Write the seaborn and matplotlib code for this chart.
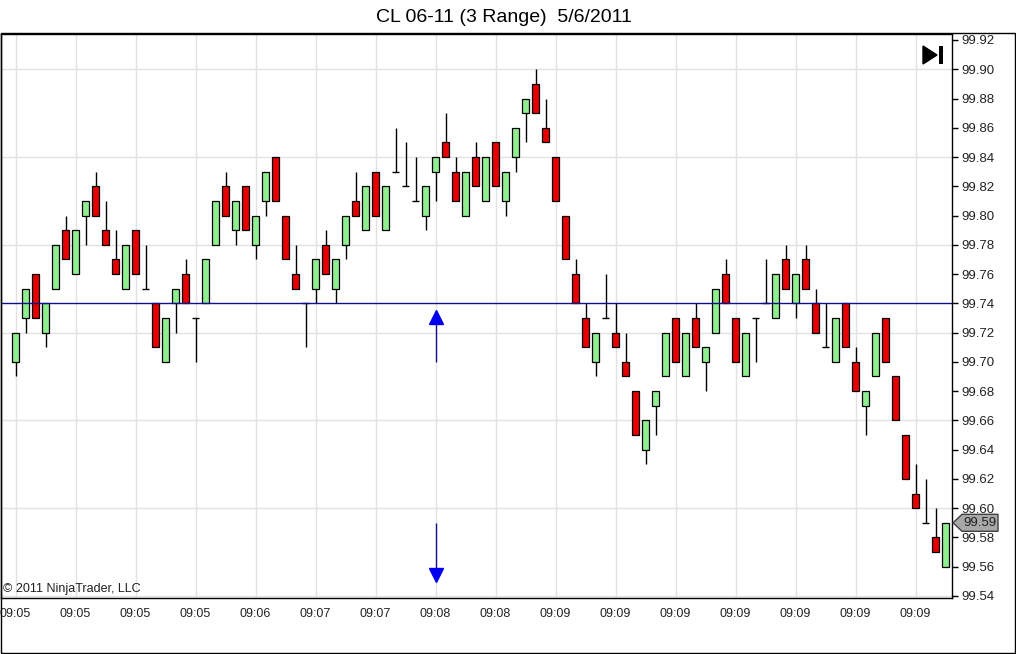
import matplotlib
matplotlib.use('Agg')
import matplotlib.pyplot as plt
import matplotlib.transforms as mtransforms
from matplotlib.patches import Polygon, Rectangle
import numpy as np
import pandas as pd
import seaborn as sns

# 3-tick range bars, CL 06-11
opens = [99.70, 99.73, 99.76, 99.72, 99.75, 99.79, 99.76, 99.80, 99.82, 99.79,
         99.77, 99.75, 99.79, 99.75, 99.74, 99.70, 99.74, 99.76, 99.73, 99.74,
         99.78, 99.82, 99.79, 99.82, 99.78, 99.81, 99.84, 99.80, 99.76, 99.74,
         99.75, 99.78, 99.75, 99.78, 99.81, 99.79, 99.83, 99.79, 99.83, 99.82,
         99.81, 99.80, 99.83, 99.85, 99.83, 99.80, 99.84, 99.81, 99.85, 99.81,
         99.84, 99.87, 99.89, 99.86, 99.84, 99.80, 99.76, 99.73, 99.70, 99.73,
         99.72, 99.70, 99.68, 99.64, 99.67, 99.69, 99.73, 99.69, 99.73, 99.70,
         99.72, 99.76, 99.73, 99.69, 99.73, 99.74, 99.73, 99.77, 99.74, 99.77,
         99.74, 99.71, 99.70, 99.74, 99.70, 99.67, 99.69, 99.73, 99.69, 99.65,
         99.61, 99.59, 99.58, 99.56]
highs = [99.72, 99.75, 99.76, 99.74, 99.78, 99.80, 99.79, 99.81, 99.83, 99.81,
         99.79, 99.78, 99.79, 99.78, 99.74, 99.73, 99.75, 99.77, 99.73, 99.77,
         99.81, 99.83, 99.81, 99.82, 99.80, 99.83, 99.84, 99.80, 99.78, 99.74,
         99.77, 99.79, 99.77, 99.80, 99.83, 99.82, 99.83, 99.82, 99.86, 99.85,
         99.84, 99.82, 99.84, 99.87, 99.84, 99.83, 99.85, 99.84, 99.85, 99.83,
         99.86, 99.88, 99.90, 99.88, 99.84, 99.80, 99.77, 99.74, 99.72, 99.76,
         99.74, 99.72, 99.68, 99.66, 99.68, 99.72, 99.73, 99.72, 99.74, 99.71,
         99.75, 99.77, 99.73, 99.72, 99.73, 99.77, 99.76, 99.78, 99.76, 99.78,
         99.75, 99.74, 99.73, 99.74, 99.71, 99.68, 99.72, 99.73, 99.69, 99.65,
         99.63, 99.62, 99.60, 99.59]
lows = [99.69, 99.72, 99.73, 99.71, 99.75, 99.77, 99.76, 99.78, 99.80, 99.78,
        99.76, 99.75, 99.76, 99.75, 99.71, 99.70, 99.72, 99.74, 99.70, 99.74,
        99.78, 99.80, 99.78, 99.79, 99.77, 99.80, 99.81, 99.77, 99.75, 99.71,
        99.74, 99.76, 99.74, 99.77, 99.80, 99.79, 99.80, 99.79, 99.83, 99.82,
        99.81, 99.79, 99.81, 99.84, 99.81, 99.80, 99.82, 99.81, 99.82, 99.80,
        99.83, 99.85, 99.87, 99.85, 99.81, 99.77, 99.74, 99.71, 99.69, 99.73,
        99.71, 99.69, 99.65, 99.63, 99.65, 99.69, 99.70, 99.69, 99.71, 99.68,
        99.72, 99.74, 99.70, 99.69, 99.70, 99.74, 99.73, 99.75, 99.73, 99.75,
        99.72, 99.71, 99.70, 99.71, 99.68, 99.65, 99.69, 99.70, 99.66, 99.62,
        99.60, 99.59, 99.57, 99.56]
closes = [99.72, 99.75, 99.73, 99.74, 99.78, 99.77, 99.79, 99.81, 99.80, 99.78,
          99.76, 99.78, 99.76, 99.75, 99.71, 99.73, 99.75, 99.74, 99.73, 99.77,
          99.81, 99.80, 99.81, 99.79, 99.80, 99.83, 99.81, 99.77, 99.75, 99.74,
          99.77, 99.76, 99.77, 99.80, 99.80, 99.82, 99.80, 99.82, 99.83, 99.82,
          99.81, 99.82, 99.84, 99.84, 99.81, 99.83, 99.82, 99.84, 99.82, 99.83,
          99.86, 99.88, 99.87, 99.85, 99.81, 99.77, 99.74, 99.71, 99.72, 99.73,
          99.71, 99.69, 99.65, 99.66, 99.68, 99.72, 99.70, 99.72, 99.71, 99.71,
          99.75, 99.74, 99.70, 99.72, 99.73, 99.74, 99.76, 99.75, 99.76, 99.75,
          99.72, 99.71, 99.73, 99.71, 99.68, 99.68, 99.72, 99.70, 99.66, 99.62,
          99.60, 99.59, 99.57, 99.59]

time_labels = ['09:05', '09:05', '09:05', '09:05', '09:06', '09:07', '09:07', '09:08',
               '09:08', '09:09', '09:09', '09:09', '09:09', '09:09', '09:09', '09:09']
label_every = 6

ref_level = 99.74

# signal arrows: bar, stem start, head price, marker
signal_bar = [42, 42]
signal_tail = [99.70, 99.59]
signal_head = [99.731, 99.554]
signal_marker = ['^', 'v']

# styling
sns.set_style('white')
plt.rcParams['font.family'] = ['Liberation Sans', 'DejaVu Sans']

up_color = '#90ee90'
down_color = '#e60000'
grid_color = '#e2e2e2'

df = pd.DataFrame({'open': opens, 'high': highs, 'low': lows, 'close': closes})
df['bar'] = np.arange(len(df))
df['body_lo'] = df[['open', 'close']].min(axis=1)
df['body_h'] = (df['close'] - df['open']).abs()
df['color'] = np.where(df['close'] > df['open'], up_color, down_color)

fig = plt.figure(figsize=(10.16, 6.54), dpi=100)
ax = fig.add_axes([0.0005, 56 / 654, 951.5 / 1016, 564 / 654])

# wicks
ax.vlines(df['bar'], df['low'], df['high'], color='black', lw=1, zorder=2)

# bodies
bodies = df[df['body_h'] > 1e-9]
ax.bar(bodies['bar'], bodies['body_h'], bottom=bodies['body_lo'], width=0.62,
       color=bodies['color'], edgecolor='black', linewidth=0.9, zorder=3)

# doji bars (open == close)
doji = df[df['body_h'] <= 1e-9]
ax.hlines(doji['close'], doji['bar'] - 0.36, doji['bar'] + 0.36, color='black', lw=1, zorder=3)

# reference line
ax.axhline(ref_level, color='#10108a', lw=1, zorder=4)

# signal arrows
sig = pd.DataFrame({'bar': signal_bar, 'tail': signal_tail, 'head': signal_head,
                    'marker': signal_marker})
ax.vlines(sig['bar'], sig['tail'], sig['head'], color='#10108a', lw=1, zorder=4)
for _, r in sig.iterrows():
    ax.plot(r['bar'], r['head'], marker=r['marker'], ms=10, color='#0000ee',
            mec='#0000ee', zorder=5, ls='none')

# axes limits and ticks
ax.set_xlim(-1.5, 93.65)
ax.set_ylim(99.5386, 99.9241)
yt = np.round(np.arange(99.54, 99.9201, 0.02), 2)
ax.set_yticks(yt)
ax.set_yticklabels([f'{v:.2f}' for v in yt])
ax.yaxis.tick_right()
xt = np.arange(0, len(df), label_every)
ax.set_xticks(xt)
ax.set_xticklabels(time_labels)
ax.tick_params(axis='y', direction='out', length=4, width=1, pad=2.5,
               labelsize=9.5, colors='black', labelcolor='#222222')
ax.tick_params(axis='x', direction='out', length=5, width=1, pad=2,
               labelsize=9, colors='black', labelcolor='#222222')

# grid: vertical at every time label, horizontal every third price label
ax.grid(False)
ax.xaxis.grid(True, color=grid_color, lw=1)
for lvl in yt[::3]:
    ax.axhline(lvl, color=grid_color, lw=1, zorder=0.5)
ax.set_axisbelow(True)
for s in ax.spines.values():
    s.set_color('black')
    s.set_linewidth(1)

# last price tag
blend = mtransforms.blended_transform_factory(ax.transAxes, ax.transData)
tag_tr = mtransforms.ScaledTranslation(1.0, closes[-1], blend)
tag = Polygon([(1, 0), (10, 8.5), (46, 8.5), (46, -8.5), (10, -8.5)], closed=True,
              transform=tag_tr, facecolor='#a8a8a8', edgecolor='#404040', lw=1,
              clip_on=False, zorder=6)
ax.add_patch(tag)
ax.annotate(f'{closes[-1]:.2f}', xy=(1.0, closes[-1]), xycoords=blend,
            xytext=(28, 0), textcoords='offset pixels', ha='center', va='center',
            fontsize=9.5, color='#202020', zorder=7, annotation_clip=False)

# "go to end" button
corner = mtransforms.ScaledTranslation(1.0, 1.0, ax.transAxes)
ax.add_patch(Polygon([(-29, -12), (-29, -30), (-15, -21)], closed=True,
                     transform=corner, facecolor='black', edgecolor='black', clip_on=False))
ax.add_patch(Rectangle((-13.5, -30), 4, 18, transform=corner,
                       facecolor='black', edgecolor='none', clip_on=False))

# copyright
ax.text(0.003, 0.006, '\u00a9 2011 NinjaTrader, LLC', transform=ax.transAxes,
        ha='left', va='bottom', fontsize=9, color='#202020')

# title
fig.text(0.4956, 0.974, 'CL 06-11 (3 Range)  5/6/2011', ha='center', va='center',
         fontsize=14, color='black')

# outer frame
fig.patches.append(Rectangle((0.0005, 0.0008), 1014.5 / 1016, (620) / 654,
                             transform=fig.transFigure, fill=False,
                             edgecolor='black', lw=1))

fig.savefig('out.png', dpi=100)
